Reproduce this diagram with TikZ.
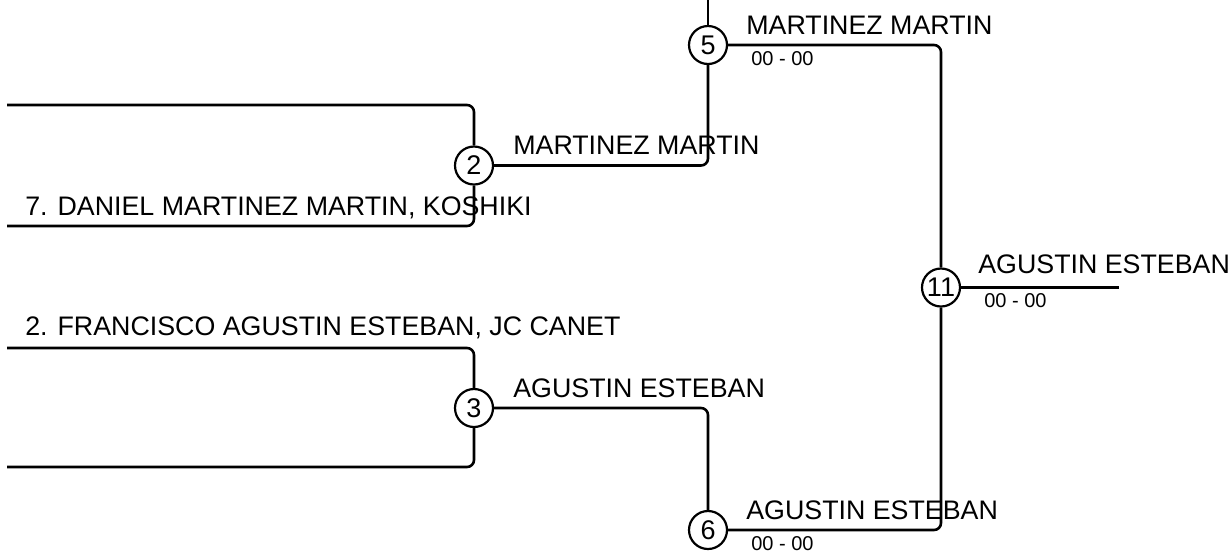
\documentclass[tikz,border=0pt]{standalone}
\usepackage{fontspec}
\setmainfont{Liberation Sans}
\begin{document}
\begin{tikzpicture}[x=1pt,y=-1pt,line width=2.6pt,
    match/.style={circle,draw,fill=white,line width=2.2pt,minimum size=38pt,inner sep=0pt,font=\fontsize{27}{27}\selectfont},
    winner/.style={anchor=base west,inner sep=0pt,font=\fontsize{26.8}{30}\selectfont},
    score/.style={anchor=base west,inner sep=0pt,font=\fontsize{20}{22}\selectfont},
    bracket/.style={rounded corners=7pt}]
  \useasboundingbox (0,0) rectangle (1231,550);

  % matches
  \node[match] (m2) at (474,165.5) {2};
  \node[match] (m3) at (474,408) {3};
  \node[match] (m5) at (708,45) {5};
  \node[match] (m6) at (708,530) {6};
  \node[match] (m11) at (941,287.5) {11};

  % free ends
  \coordinate (a1) at (7,105);
  \coordinate (a2) at (7,226);
  \coordinate (b1) at (7,348);
  \coordinate (b2) at (7,467);
  \coordinate (top5) at (708,-3);
  \coordinate (end11) at (1119,287.5);

  \draw[bracket] (a1) -- (a1 -| m2) -- (m2);
  \draw[bracket] (a2) -- (a2 -| m2) -- (m2);
  \draw[bracket] (b1) -- (b1 -| m3) -- (m3);
  \draw[bracket] (b2) -- (b2 -| m3) -- (m3);
  \draw[bracket] (m2) -- (m2 -| m5) -- (m5);
  \draw[bracket] (m3) -- (m3 -| m6) -- (m6);
  \draw[bracket] (m5) -- (m5 -| m11) -- (m11);
  \draw[bracket] (m6) -- (m6 -| m11) -- (m11);
  \draw (m5) -- (top5);
  \draw (m11) -- (end11);

  % entrants
  \node[winner] (p7) at (24,215) {7. DANIEL MARTINEZ MARTIN, KOSHIKI};
  \node[winner] (p2) at (24,335) {2. FRANCISCO AGUSTIN ESTEBAN, JC CANET};

  % winners and scores
  \node[winner] (w2) at ([xshift=38pt,yshift=11pt]m2.center) {MARTINEZ MARTIN};
  \node[winner] (w3) at ([xshift=38pt,yshift=11pt]m3.center) {AGUSTIN ESTEBAN};
  \node[winner] (w5) at ([xshift=37pt,yshift=11pt]m5.center) {MARTINEZ MARTIN};
  \node[winner] (w6) at ([xshift=37pt,yshift=11pt]m6.center) {AGUSTIN ESTEBAN};
  \node[winner] (w11) at ([xshift=36pt,yshift=14pt]m11.center) {AGUSTIN ESTEBAN};
  \node[score] (s5) at ([xshift=42pt,yshift=-20pt]m5.center) {00 - 00};
  \node[score] (s6) at ([xshift=42pt,yshift=-20pt]m6.center) {00 - 00};
  \node[score] (s11) at ([xshift=42pt,yshift=-20pt]m11.center) {00 - 00};
\end{tikzpicture}
\end{document}
